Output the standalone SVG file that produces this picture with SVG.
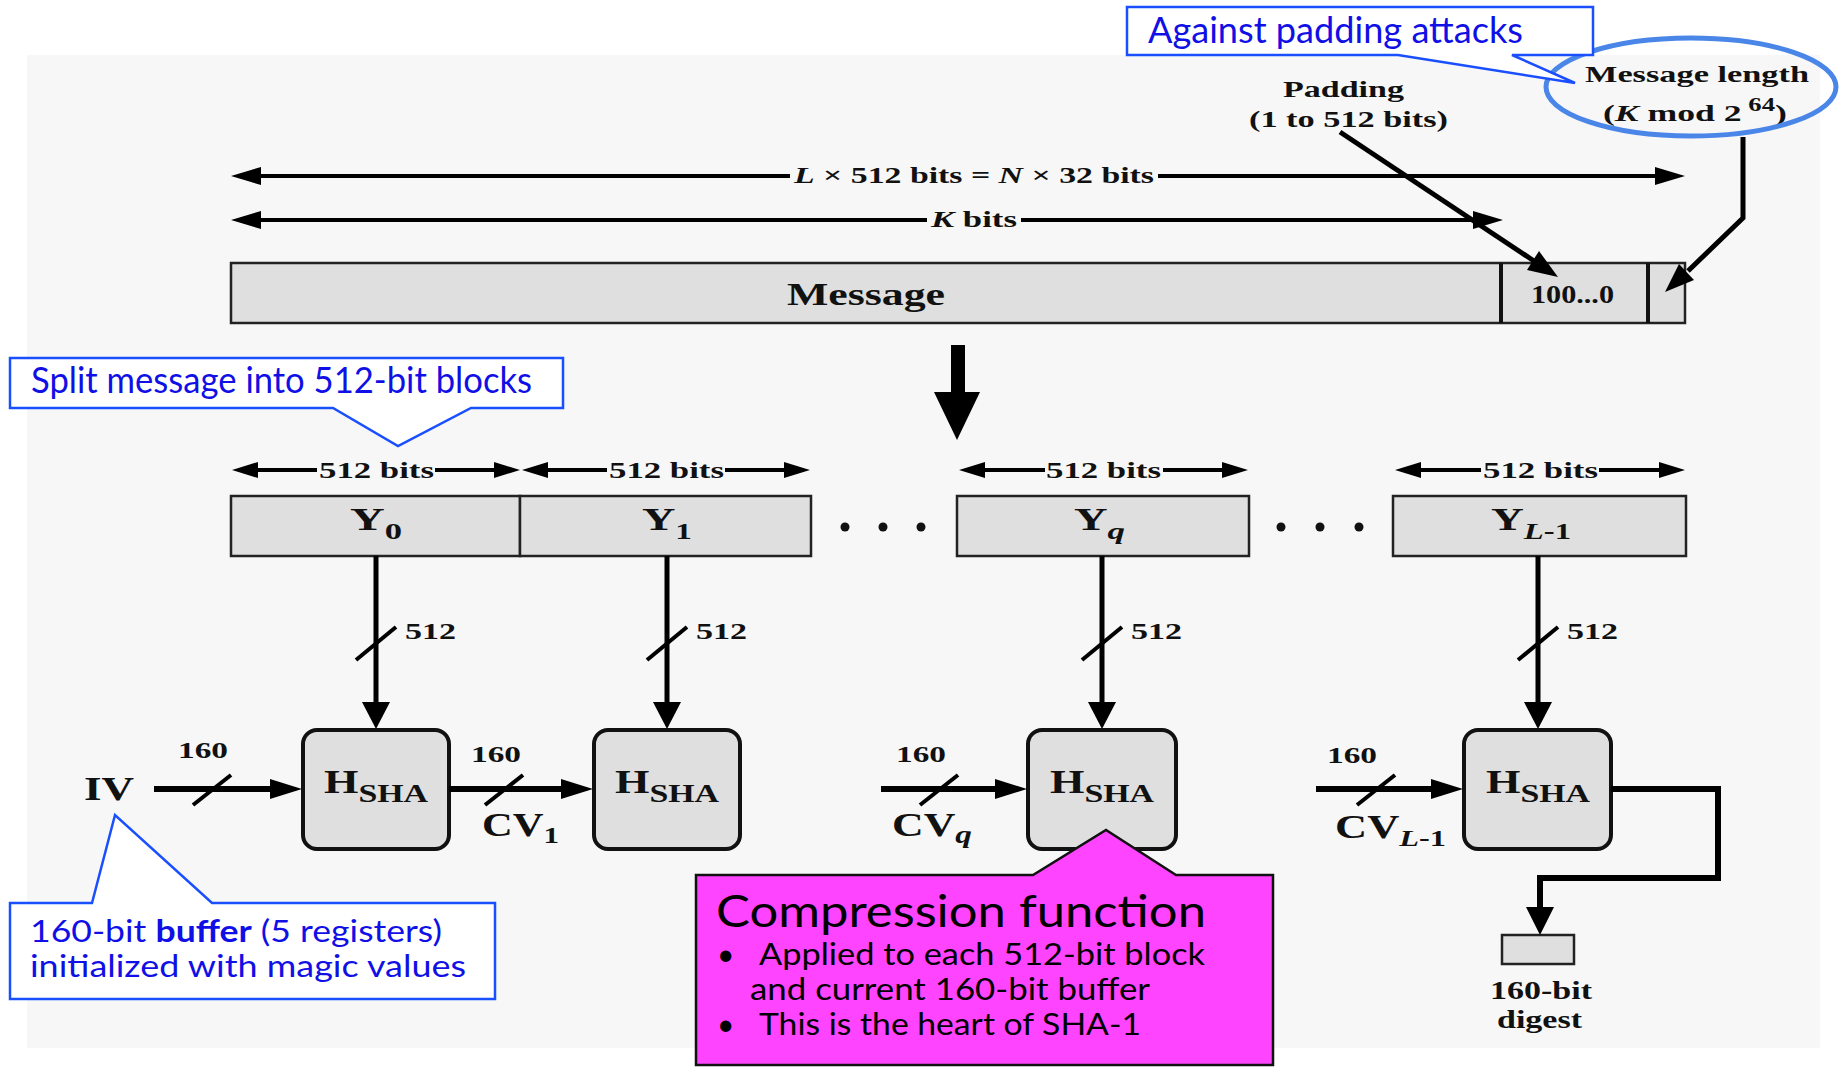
<svg xmlns="http://www.w3.org/2000/svg" width="1841" height="1067" viewBox="0 0 1841 1067">
  <style>
    .serif { font-family: "Liberation Serif", "Times New Roman", serif; font-weight: bold; fill: #111; }
    .sans { font-family: Lato, "Open Sans", "Liberation Sans", sans-serif; }
    .blue { fill: #1010e6; }
    .box { fill: #dfdfdf; stroke: #222; stroke-width: 2.5; }
    .hbox { fill: #dfdfdf; stroke: #111; stroke-width: 4; }
    .ln { fill: none; stroke: #000; stroke-linejoin: miter; }
    .head { fill: #000; }
    .callout { fill: #fff; stroke: #1a4fff; stroke-width: 2.5; }
  </style>

  <!-- page and figure panel -->
  <rect x="0" y="0" width="1841" height="1067" fill="#fff"/>
  <rect x="27" y="55" width="1793" height="993" fill="#f7f7f7"/>

  <!-- message with padding and length field -->
  <g id="message">
    <rect class="box" x="231" y="263" width="1454" height="60"/>
    <line x1="1501" y1="263" x2="1501" y2="323" stroke="#111" stroke-width="4"/>
    <line x1="1648" y1="263" x2="1648" y2="323" stroke="#111" stroke-width="4"/>
    <text class="serif" x="787" y="305" font-size="31" textLength="158" lengthAdjust="spacingAndGlyphs">Message</text>
    <text class="serif" x="1531" y="303" font-size="26" textLength="83" lengthAdjust="spacingAndGlyphs">100...0</text>
  </g>

  <g id="padding-label">
    <text class="serif" x="1283" y="97" font-size="24" textLength="121" lengthAdjust="spacingAndGlyphs">Padding</text>
    <text class="serif" x="1249" y="127" font-size="24" textLength="199" lengthAdjust="spacingAndGlyphs">(1 to 512 bits)</text>
  </g>

  <g id="length-label">
    <text class="serif" x="1585" y="82" font-size="24" textLength="224" lengthAdjust="spacingAndGlyphs">Message length</text>
    <text class="serif" x="1603" y="121" font-size="24" textLength="184" lengthAdjust="spacingAndGlyphs">(<tspan font-style="italic">K</tspan> mod 2<tspan font-size="18" dy="-10"> 64</tspan><tspan dy="10">)</tspan></text>
  </g>

  <!-- 512-bit blocks -->
  <g id="block-Y0">
    <rect class="box" x="231" y="496" width="289" height="60"/>
    <text class="serif" x="350" y="530" font-size="32" textLength="52" lengthAdjust="spacingAndGlyphs">Y<tspan font-size="23" dy="9">0</tspan></text>
  </g>
  <g id="block-Y1">
    <rect class="box" x="520" y="496" width="291" height="60"/>
    <text class="serif" x="642" y="530" font-size="32" textLength="50" lengthAdjust="spacingAndGlyphs">Y<tspan font-size="23" dy="9">1</tspan></text>
  </g>
  <g id="block-Yq">
    <rect class="box" x="957" y="496" width="292" height="60"/>
    <text class="serif" x="1074" y="530" font-size="32" textLength="51" lengthAdjust="spacingAndGlyphs">Y<tspan font-size="24" dy="9" font-style="italic">q</tspan></text>
  </g>
  <g id="block-YL-1">
    <rect class="box" x="1393" y="496" width="293" height="60"/>
    <text class="serif" x="1491" y="530" font-size="32" textLength="80" lengthAdjust="spacingAndGlyphs">Y<tspan font-size="23" dy="9"><tspan font-style="italic">L</tspan>-1</tspan></text>
  </g>

  <g id="ellipsis-dots" fill="#111">
    <circle cx="845" cy="527" r="4.5"/>
    <circle cx="883" cy="527" r="4.5"/>
    <circle cx="921" cy="527" r="4.5"/>
    <circle cx="1281" cy="527" r="4.5"/>
    <circle cx="1320" cy="527" r="4.5"/>
    <circle cx="1359" cy="527" r="4.5"/>
  </g>

  <!-- compression function stages -->
  <g id="hsha-1">
    <rect class="hbox" x="303" y="730" width="146" height="119" rx="14"/>
    <text class="serif" x="324" y="793" font-size="34" textLength="104" lengthAdjust="spacingAndGlyphs">H<tspan font-size="26" dy="9">SHA</tspan></text>
  </g>
  <g id="hsha-2">
    <rect class="hbox" x="594" y="730" width="146" height="119" rx="14"/>
    <text class="serif" x="615" y="793" font-size="34" textLength="104" lengthAdjust="spacingAndGlyphs">H<tspan font-size="26" dy="9">SHA</tspan></text>
  </g>
  <g id="hsha-q">
    <rect class="hbox" x="1028" y="730" width="148" height="119" rx="14"/>
    <text class="serif" x="1050" y="793" font-size="34" textLength="104" lengthAdjust="spacingAndGlyphs">H<tspan font-size="26" dy="9">SHA</tspan></text>
  </g>
  <g id="hsha-last">
    <rect class="hbox" x="1464" y="730" width="147" height="119" rx="14"/>
    <text class="serif" x="1486" y="793" font-size="34" textLength="104" lengthAdjust="spacingAndGlyphs">H<tspan font-size="26" dy="9">SHA</tspan></text>
  </g>

  <g id="iv">
    <text class="serif" x="84" y="800" font-size="34" textLength="50" lengthAdjust="spacingAndGlyphs">IV</text>
  </g>

  <g id="digest">
    <rect class="box" x="1502" y="935" width="72" height="29" stroke-width="2"/>
    <text class="serif" x="1490" y="999" font-size="25" textLength="102" lengthAdjust="spacingAndGlyphs">160-bit</text>
    <text class="serif" x="1497" y="1028" font-size="25" textLength="85" lengthAdjust="spacingAndGlyphs">digest</text>
  </g>

  <!-- connectors -->
  <g id="connectors">
    <!-- overall length L x 512 -->
    <line class="ln" x1="255" y1="176" x2="790" y2="176" stroke-width="4"/>
    <line class="ln" x1="1158" y1="176" x2="1661" y2="176" stroke-width="4"/>
    <polygon class="head" points="231,176 261,167 261,185"/>
    <polygon class="head" points="1685,176 1655,167 1655,185"/>
    <text class="serif" x="794" y="183" font-size="24" textLength="360" lengthAdjust="spacingAndGlyphs"><tspan font-style="italic">L</tspan> × 512 bits = <tspan font-style="italic">N</tspan> × 32 bits</text>

    <!-- K bits -->
    <line class="ln" x1="255" y1="220" x2="927" y2="220" stroke-width="4"/>
    <line class="ln" x1="1021" y1="220" x2="1479" y2="220" stroke-width="4"/>
    <polygon class="head" points="231,220 261,211 261,229"/>
    <polygon class="head" points="1503,220 1473,211 1473,229"/>
    <text class="serif" x="931" y="227" font-size="24" textLength="86" lengthAdjust="spacingAndGlyphs"><tspan font-style="italic">K</tspan> bits</text>

    <!-- padding pointer -->
    <line class="ln" x1="1340" y1="132" x2="1537" y2="263" stroke-width="5"/>
    <polygon class="head" points="1558,277 1527,270 1539,251"/>

    <!-- length pointer -->
    <polyline class="ln" points="1743,137 1743,218 1688,271" stroke-width="5"/>
    <polygon class="head" points="1665,292 1679,264 1694,280"/>

    <!-- split into blocks -->
    <rect x="951" y="345" width="14" height="50" fill="#000"/>
    <polygon class="head" points="934,392 980,392 957,440"/>

    <!-- 512-bit block widths -->
    <g stroke-width="4">
      <line class="ln" x1="254" y1="470" x2="317" y2="470"/>
      <line class="ln" x1="435" y1="470" x2="498" y2="470"/>
      <line class="ln" x1="544" y1="470" x2="607" y2="470"/>
      <line class="ln" x1="725" y1="470" x2="788" y2="470"/>
      <line class="ln" x1="981" y1="470" x2="1045" y2="470"/>
      <line class="ln" x1="1163" y1="470" x2="1226" y2="470"/>
      <line class="ln" x1="1417" y1="470" x2="1481" y2="470"/>
      <line class="ln" x1="1599" y1="470" x2="1663" y2="470"/>
    </g>
    <polygon class="head" points="232,470 258,462 258,478"/>
    <polygon class="head" points="520,470 494,462 494,478"/>
    <polygon class="head" points="522,470 548,462 548,478"/>
    <polygon class="head" points="810,470 784,462 784,478"/>
    <polygon class="head" points="959,470 985,462 985,478"/>
    <polygon class="head" points="1248,470 1222,462 1222,478"/>
    <polygon class="head" points="1395,470 1421,462 1421,478"/>
    <polygon class="head" points="1685,470 1659,462 1659,478"/>
    <text class="serif" x="319" y="478" font-size="24" textLength="115" lengthAdjust="spacingAndGlyphs">512 bits</text>
    <text class="serif" x="609" y="478" font-size="24" textLength="115" lengthAdjust="spacingAndGlyphs">512 bits</text>
    <text class="serif" x="1046" y="478" font-size="24" textLength="115" lengthAdjust="spacingAndGlyphs">512 bits</text>
    <text class="serif" x="1483" y="478" font-size="24" textLength="115" lengthAdjust="spacingAndGlyphs">512 bits</text>

    <!-- block inputs (512) -->
    <g stroke-width="5">
      <line class="ln" x1="376" y1="556" x2="376" y2="706"/>
      <line class="ln" x1="667" y1="556" x2="667" y2="706"/>
      <line class="ln" x1="1102" y1="556" x2="1102" y2="706"/>
      <line class="ln" x1="1538" y1="556" x2="1538" y2="706"/>
    </g>
    <polygon class="head" points="362,702 390,702 376,729"/>
    <polygon class="head" points="653,702 681,702 667,729"/>
    <polygon class="head" points="1088,702 1116,702 1102,729"/>
    <polygon class="head" points="1524,702 1552,702 1538,729"/>
    <g stroke-width="4">
      <line class="ln" x1="356" y1="660" x2="396" y2="627"/>
      <line class="ln" x1="647" y1="660" x2="687" y2="627"/>
      <line class="ln" x1="1082" y1="660" x2="1122" y2="627"/>
      <line class="ln" x1="1518" y1="660" x2="1558" y2="627"/>
    </g>
    <text class="serif" x="405" y="639" font-size="24" textLength="51" lengthAdjust="spacingAndGlyphs">512</text>
    <text class="serif" x="696" y="639" font-size="24" textLength="51" lengthAdjust="spacingAndGlyphs">512</text>
    <text class="serif" x="1131" y="639" font-size="24" textLength="51" lengthAdjust="spacingAndGlyphs">512</text>
    <text class="serif" x="1567" y="639" font-size="24" textLength="51" lengthAdjust="spacingAndGlyphs">512</text>

    <!-- chaining values (160) -->
    <g stroke-width="6">
      <line class="ln" x1="154" y1="789" x2="274" y2="789"/>
      <line class="ln" x1="449" y1="789" x2="565" y2="789"/>
      <line class="ln" x1="881" y1="789" x2="999" y2="789"/>
      <line class="ln" x1="1316" y1="789" x2="1435" y2="789"/>
    </g>
    <polygon class="head" points="302,789 270,779 270,799"/>
    <polygon class="head" points="593,789 561,779 561,799"/>
    <polygon class="head" points="1027,789 995,779 995,799"/>
    <polygon class="head" points="1463,789 1431,779 1431,799"/>
    <g stroke-width="4">
      <line class="ln" x1="193" y1="805" x2="231" y2="775"/>
      <line class="ln" x1="485" y1="805" x2="523" y2="775"/>
      <line class="ln" x1="920" y1="805" x2="958" y2="775"/>
      <line class="ln" x1="1357" y1="805" x2="1395" y2="775"/>
    </g>
    <text class="serif" x="178" y="758" font-size="24" textLength="50" lengthAdjust="spacingAndGlyphs">160</text>
    <text class="serif" x="471" y="762" font-size="24" textLength="50" lengthAdjust="spacingAndGlyphs">160</text>
    <text class="serif" x="896" y="762" font-size="24" textLength="50" lengthAdjust="spacingAndGlyphs">160</text>
    <text class="serif" x="1327" y="763" font-size="24" textLength="50" lengthAdjust="spacingAndGlyphs">160</text>
    <text class="serif" x="482" y="836" font-size="33" textLength="77" lengthAdjust="spacingAndGlyphs">CV<tspan font-size="24" dy="7">1</tspan></text>
    <text class="serif" x="892" y="836" font-size="33" textLength="80" lengthAdjust="spacingAndGlyphs">CV<tspan font-size="25" dy="7" font-style="italic">q</tspan></text>
    <text class="serif" x="1335" y="838" font-size="33" textLength="111" lengthAdjust="spacingAndGlyphs">CV<tspan font-size="24" dy="8"><tspan font-style="italic">L</tspan>-1</tspan></text>

    <!-- final output to digest -->
    <polyline class="ln" points="1611,789 1718,789 1718,878 1540,878 1540,912" stroke-width="6"/>
    <polygon class="head" points="1526,907 1554,907 1540,935"/>
  </g>

  <!-- annotations -->
  <g id="note-padding-attacks">
    <ellipse cx="1691" cy="87" rx="145" ry="49" fill="none" stroke="#4a86e8" stroke-width="5"/>
    <path class="callout" d="M1127,7 H1593 V55 H1512 L1575,83 L1398,55 H1127 Z"/>
    <text class="sans blue" x="1148" y="43" font-size="36" textLength="375" lengthAdjust="spacingAndGlyphs">Against padding attacks</text>
  </g>

  <g id="note-split">
    <path class="callout" d="M10,358 H563 V408 H471 L398,446 L333,408 H10 Z"/>
    <text class="sans blue" x="31" y="393" font-size="36" textLength="501" lengthAdjust="spacingAndGlyphs">Split message into 512-bit blocks</text>
  </g>

  <g id="note-buffer">
    <path class="callout" d="M10,903 H92 L115,815 L212,903 H495 V999 H10 Z"/>
    <text class="sans blue" x="30" y="942" font-size="30" textLength="412" lengthAdjust="spacingAndGlyphs">160-bit <tspan font-weight="bold">buffer</tspan> (5 registers)</text>
    <text class="sans blue" x="30" y="977" font-size="30" textLength="436" lengthAdjust="spacingAndGlyphs">initialized with magic values</text>
  </g>

  <g id="note-compression">
    <path d="M696,875 H1033 L1106,830 L1176,875 H1273 V1065 H696 Z" fill="#ff44ff" stroke="#111" stroke-width="2.5"/>
    <text class="sans" x="716" y="927" font-size="44" fill="#000" textLength="490" lengthAdjust="spacingAndGlyphs">Compression function</text>
    <text class="sans" x="717" y="965" font-size="30" fill="#000">•</text>
    <text class="sans" x="759" y="965" font-size="30" fill="#000" textLength="446" lengthAdjust="spacingAndGlyphs">Applied to each 512-bit block</text>
    <text class="sans" x="750" y="1000" font-size="30" fill="#000" textLength="400" lengthAdjust="spacingAndGlyphs">and current 160-bit buffer</text>
    <text class="sans" x="717" y="1035" font-size="30" fill="#000">•</text>
    <text class="sans" x="759" y="1035" font-size="30" fill="#000" textLength="382" lengthAdjust="spacingAndGlyphs">This is the heart of SHA-1</text>
  </g>
</svg>
